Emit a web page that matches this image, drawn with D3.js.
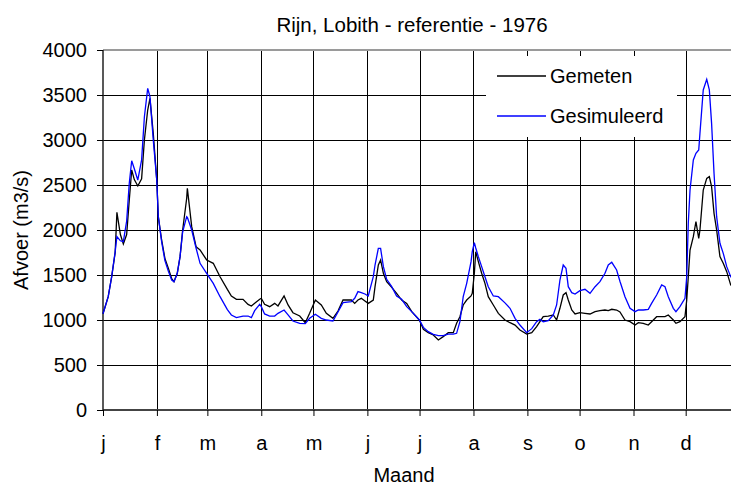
<!DOCTYPE html>
<html>
<head>
<meta charset="utf-8">
<script src="https://cdn.jsdelivr.net/npm/d3@7"></script>
<style>
  html, body { margin: 0; padding: 0; background: #fff; }
  svg { display: block; }
  text { font-family: Arial, "Liberation Sans", sans-serif; fill: #000; }
</style>
</head>
<body>
<svg id="chart" width="731" height="485"></svg>
<script>
// ---- data ----
const monthStarts = [0, 31, 60, 91, 121, 152, 182, 213, 244, 274, 305, 335];
const monthLabels = ["j", "f", "m", "a", "m", "j", "j", "a", "s", "o", "n", "d"];
const yTicks = [0, 500, 1000, 1500, 2000, 2500, 3000, 3500, 4000];
const seriesNames = ["Gemeten", "Gesimuleerd"];

const days = [0, 3, 5, 7, 8, 10, 11.7, 13.6, 15.1, 16.5, 18, 20, 22.2, 23.8, 25.7, 27, 28.9, 30.9, 31.8, 33.7,
  35.6, 37.6, 39.5, 40.8, 42.7, 44.3, 45.8, 48.1, 48.5, 51, 53.5, 55.8, 59.6, 63.4, 67.3, 71.5, 73.8, 76.7, 80.5, 83.4,
  85.3, 87.2, 90.1, 91, 92.9, 95.8, 98.7, 100.6, 104.1, 106.4, 109.2, 113.1, 116.3, 118.8, 122.1, 125.5, 128.4, 132.2, 135.1, 138,
  142.8, 144.7, 146.6, 148.5, 150.6, 152.5, 155.4, 156.4, 158.3, 159.6, 161.2, 163.1, 166, 168.8, 171.7, 174.6, 177.5, 181.9, 184.2, 187,
  189.9, 192.8, 195.6, 198.5, 201.4, 203.3, 205.2, 207.1, 209.1, 211.6, 212.3, 213.5, 214.3, 215.8, 217.7, 219.6, 221.5, 224.4, 227.3, 231.1,
  234, 236.9, 239.7, 243.6, 246.5, 249.3, 251.2, 253.1, 256, 258.9, 260.8, 262.7, 264.6, 266.2, 267.5, 269.5, 271.4, 274.2, 277.1, 280,
  282.9, 285.7, 288.6, 290.5, 292.5, 295.3, 297.2, 300.1, 303, 305.9, 307.8, 310.6, 313.5, 315.4, 318.3, 321.2, 323.1, 325, 327.9, 329.4,
  331.7, 334.6, 335.6, 336.5, 337.5, 339.4, 340.9, 342.5, 343.2, 345.1, 347.1, 348.6, 349.9, 351.3, 352.8, 354.7, 356.6, 358.6, 360.9, 363, 365];

const gemeten = [1070, 1259, 1481, 1750, 2196, 1950, 1844, 1950, 2330, 2667, 2560, 2489, 2570, 3000, 3333, 3463, 3074, 2556, 2148, 1889,
  1685, 1574, 1460, 1426, 1519, 1704, 2000, 2350, 2463, 2037, 1815, 1778, 1667, 1630, 1481, 1340, 1267, 1230, 1230, 1174,
  1156, 1185, 1230, 1241, 1174, 1148, 1185, 1156, 1267, 1167, 1081, 1044, 970, 1074, 1222, 1167, 1074, 1019, 1100, 1222,
  1222, 1185, 1222, 1241, 1211, 1185, 1222, 1370, 1611, 1667, 1519, 1426, 1363, 1296, 1222, 1185, 1093, 1000, 896, 859,
  833, 778, 815, 859, 859, 963, 1037, 1167, 1222, 1267, 1296, 1519, 1759, 1648, 1519, 1407, 1259, 1167, 1074, 1000,
  970, 944, 889, 844, 859, 926, 981, 1037, 1044, 1056, 1000, 1130, 1278, 1304, 1222, 1111, 1067, 1081, 1074, 1067,
  1093, 1104, 1111, 1104, 1119, 1111, 1090, 1000, 981, 944, 970, 963, 944, 981, 1037, 1037, 1037, 1056, 1000, 963,
  981, 1037, 1222, 1481, 1778, 1926, 2093, 1907, 2000, 2444, 2574, 2593, 2481, 2185, 2000, 1704, 1630, 1537, 1389, 1370, 1350];

const gesimuleerd = [1070, 1259, 1481, 1760, 1926, 1880, 1870, 2100, 2519, 2770, 2680, 2555, 2780, 3259, 3574, 3481, 3000, 2556, 2148, 1870,
  1660, 1540, 1444, 1426, 1519, 1704, 1980, 2148, 2140, 2000, 1800, 1630, 1519, 1407, 1259, 1115, 1056, 1026, 1044, 1044,
  1026, 1104, 1174, 1148, 1067, 1044, 1044, 1074, 1111, 1056, 989, 963, 960, 1019, 1063, 1019, 1000, 989, 1089, 1193,
  1204, 1241, 1315, 1304, 1289, 1267, 1481, 1611, 1796, 1796, 1593, 1452, 1370, 1267, 1230, 1148, 1093, 1000, 918, 870,
  841, 826, 826, 844, 844, 852, 981, 1259, 1407, 1648, 1759, 1859, 1800, 1704, 1593, 1481, 1370, 1267, 1259, 1190,
  1130, 1019, 944, 859, 904, 981, 1007, 981, 993, 1056, 1167, 1444, 1611, 1574, 1370, 1304, 1289, 1326, 1341, 1296,
  1370, 1426, 1519, 1611, 1641, 1556, 1430, 1259, 1130, 1093, 1111, 1111, 1119, 1185, 1278, 1389, 1370, 1259, 1130, 1093,
  1148, 1241, 1481, 2074, 2444, 2778, 2852, 2889, 3074, 3556, 3674, 3556, 3185, 2630, 2148, 1852, 1741, 1593, 1481, 1440, 1420];

// ---- layout ----
const svg = d3.select("#chart");
const x = d3.scaleLinear().domain([0, 366]).range([103, 739.6]);
const y = d3.scaleLinear().domain([0, 4000]).range([410, 50]);
const FS = 20;
const FONT = "Arial, 'Liberation Sans', sans-serif";

// gridlines
const grid = svg.append("g");
grid.selectAll("line.h").data(yTicks.filter(d => d > 0 && d < 4000)).join("line")
  .attr("x1", x(0)).attr("x2", 731)
  .attr("y1", d => Math.round(y(d)) + 0.5).attr("y2", d => Math.round(y(d)) + 0.5)
  .attr("stroke", "#000").attr("stroke-width", 1);
grid.selectAll("line.v").data(monthStarts.filter(d => d > 0)).join("line")
  .attr("x1", d => Math.round(x(d)) + 0.5).attr("x2", d => Math.round(x(d)) + 0.5)
  .attr("y1", y(4000)).attr("y2", y(0))
  .attr("stroke", "#000").attr("stroke-width", 1);

// top border
svg.append("line").attr("x1", x(0)).attr("x2", 731).attr("y1", y(4000)).attr("y2", y(4000))
  .attr("stroke", "#9a9a9a").attr("stroke-width", 2);

// axes
const xAxis = d3.axisBottom(x).tickValues(monthStarts).tickFormat((d, i) => monthLabels[i]).tickSize(6).tickPadding(20);
const gx = svg.append("g").attr("transform", `translate(0,${y(0)})`).call(xAxis);
gx.select(".domain").attr("stroke", "#444").attr("stroke-width", 2).attr("d", `M${x(0)},0H731`);
gx.selectAll(".tick line").attr("stroke", "#000");
gx.selectAll(".tick text").attr("font-size", FS).attr("font-family", FONT).attr("fill", "#000");

const yAxis = d3.axisLeft(y).tickValues(yTicks).tickFormat(d3.format("d")).tickSize(6).tickPadding(10);
const gy = svg.append("g").attr("transform", `translate(${x(0)},0)`).call(yAxis);
gy.select(".domain").attr("stroke", "#222").attr("stroke-width", 1.5).attr("d", `M0,${y(4000)}V${y(0)}`);
gy.selectAll(".tick line").attr("stroke", "#000");
gy.selectAll(".tick text").attr("font-size", FS).attr("font-family", FONT).attr("fill", "#000");

// lines
const line = vals => d3.line().x((d, i) => x(days[i])).y(d => y(d))(vals);
svg.append("path").attr("d", line(gemeten)).attr("fill", "none").attr("stroke", "#000").attr("stroke-width", 1.3);
svg.append("path").attr("d", line(gesimuleerd)).attr("fill", "none").attr("stroke", "#0000ff").attr("stroke-width", 1.3);

// legend
const lg = svg.append("g");
lg.append("rect").attr("x", 486).attr("y", 56).attr("width", 191).attr("height", 81).attr("fill", "#fff");
const legendColors = ["#000", "#0000ff"];
seriesNames.forEach((name, i) => {
  const ly = 76 + i * 40;
  lg.append("line").attr("x1", 497).attr("x2", 546).attr("y1", ly).attr("y2", ly)
    .attr("stroke", legendColors[i]).attr("stroke-width", 1.3);
  lg.append("text").attr("x", 550).attr("y", ly).attr("dy", "0.35em").attr("font-size", FS).text(name);
});

// titles
svg.append("text").attr("x", 412).attr("y", 32).attr("text-anchor", "middle").attr("font-size", 20.5)
  .text("Rijn, Lobith - referentie - 1976");
svg.append("text").attr("x", 404).attr("y", 482).attr("text-anchor", "middle").attr("font-size", FS).text("Maand");
svg.append("text").attr("transform", "translate(28,230) rotate(-90)").attr("text-anchor", "middle")
  .attr("font-size", FS).text("Afvoer (m3/s)");
</script>
</body>
</html>
